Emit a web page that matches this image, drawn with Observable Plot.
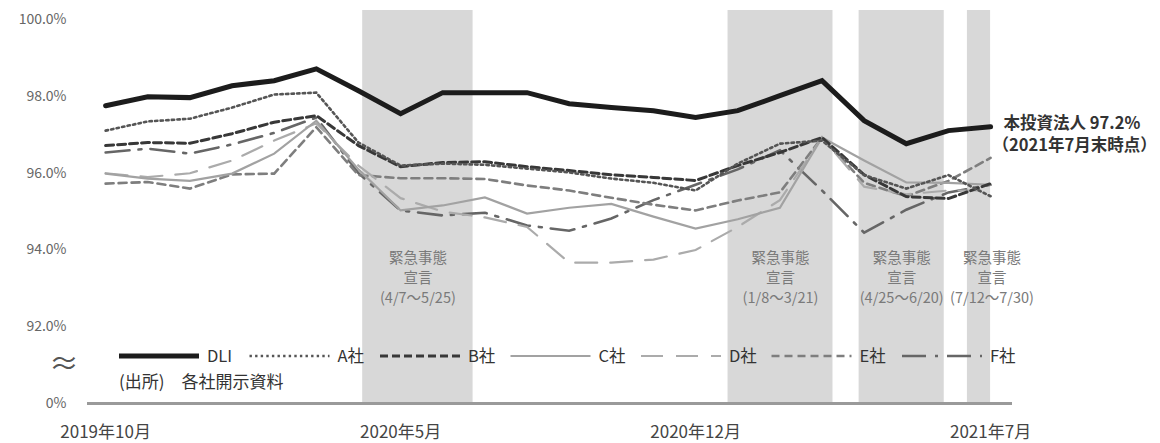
<!DOCTYPE html>
<html><head><meta charset="utf-8">
<script src="https://cdn.jsdelivr.net/npm/d3@7"></script>
<script src="https://cdn.jsdelivr.net/npm/@observablehq/plot@0.6"></script>
<style>
body{margin:0;background:#fff;font-family:"Noto Sans CJK JP","Noto Sans",sans-serif;}
#wrap{position:relative;width:1160px;height:443px;overflow:hidden;}
#wrap svg{position:absolute;left:0;top:0;}
g[aria-label="y-axis tick label"] text{fill:#666;}
g[aria-label="x-axis tick label"] text{fill:#444;}
</style></head><body><div id="wrap"></div>
<script>
// ---- data ----
const months = ["2019-10","2019-11","2019-12","2020-01","2020-02","2020-03","2020-04","2020-05","2020-06","2020-07","2020-08","2020-09","2020-10","2020-11","2020-12","2021-01","2021-02","2021-03","2021-04","2021-05","2021-06","2021-07"];
const tickIndex = [0, 7, 14, 21];
const tickText = ["2019年10月", "2020年5月", "2020年12月", "2021年7月"];
const yTicks = [90, 92, 94, 96, 98, 100];

const seriesNames = ["DLI", "A社", "B社", "C社", "D社", "E社", "F社"];
const dli = [97.76,97.99,97.97,98.28,98.41,98.72,98.15,97.55,98.10,98.10,98.10,97.81,97.71,97.63,97.45,97.63,98.02,98.41,97.37,96.77,97.11,97.21];
const compA = [97.11,97.35,97.42,97.71,98.05,98.10,96.80,96.20,96.25,96.22,96.12,96.02,95.86,95.75,95.55,96.25,96.77,96.85,95.95,95.60,95.95,95.40];
const compB = [96.72,96.80,96.78,97.03,97.33,97.50,96.72,96.17,96.28,96.30,96.17,96.07,95.96,95.89,95.81,96.20,96.54,96.93,95.96,95.39,95.34,95.73];
const compC = [95.99,95.86,95.80,95.99,96.51,97.37,96.10,95.03,95.16,95.37,94.95,95.10,95.20,94.87,94.56,94.80,95.10,96.93,96.33,95.76,95.75,95.70];
const compD = [96.00,95.90,96.00,96.33,96.85,97.30,96.20,95.35,95.00,94.85,94.60,93.67,93.67,93.75,94.00,94.60,95.30,96.93,95.65,95.45,95.55,95.55];
const compE = [95.73,95.77,95.60,95.97,95.99,97.20,95.95,95.87,95.87,95.85,95.68,95.55,95.36,95.18,95.03,95.29,95.50,96.93,95.75,95.40,95.80,96.40];
const compF = [96.54,96.64,96.51,96.75,97.05,97.45,96.00,95.03,94.90,94.97,94.64,94.50,94.82,95.30,95.70,96.10,96.60,95.55,94.45,95.05,95.50,95.70];
const seriesValues = [dli, compA, compB, compC, compD, compE, compF];

// state-of-emergency periods (positions in month index as drawn)
const bandStart = [6.1, 14.77, 17.88, 20.45];
const bandEnd = [8.72, 17.26, 19.9, 21.0];
const bandRange = ["(4/7～5/25)", "(1/8～3/21)", "(4/25～6/20)", "(7/12～7/30)"];

const annotationTitle = "本投資法人";
const annotationNote = "（2021年7月末時点）";
const sourceNote = "(出所)　各社開示資料";

// ---- styles ----
const styles = [
  {stroke: "#1c1c1c", strokeWidth: 5, dash: null},
  {stroke: "#555", strokeWidth: 2.6, dash: "2.4,3.2"},
  {stroke: "#383838", strokeWidth: 3, dash: "8,4"},
  {stroke: "#a2a2a2", strokeWidth: 2.2, dash: null},
  {stroke: "#ababab", strokeWidth: 2.2, dash: "22,13"},
  {stroke: "#7e7e7e", strokeWidth: 2.6, dash: "8,5"},
  {stroke: "#666", strokeWidth: 2.6, dash: "24,9,3,9"}
];

const rows = seriesNames.flatMap((name, s) => seriesValues[s].map((v, i) => ({name, i, month: months[i], v})));
const bands = bandStart.map((s, k) => ({start: s, end: bandEnd[k], label: "緊急事態\n宣言\n" + bandRange[k]}));
const last = dli.length - 1;

const lineMarks = seriesNames.map((name, s) => s).reverse().map(s =>
  Plot.line(rows.filter(d => d.name === seriesNames[s]), {
    x: "i", y: "v", stroke: styles[s].stroke, strokeWidth: styles[s].strokeWidth,
    strokeDasharray: styles[s].dash || undefined, strokeLinejoin: "miter", strokeMiterlimit: 3
  })
);

const chart = Plot.plot({
  width: 1160, height: 443,
  marginLeft: 87, marginRight: 148, marginTop: 10, marginBottom: 40,
  x: {domain: [-0.43, 21.52]},
  y: {domain: [90, 100.24]},
  style: {fontFamily: '"Noto Sans CJK JP","Noto Sans",sans-serif', background: "white"},
  marks: [
    Plot.rect(bands, {x1: "start", x2: "end", fill: "#d8d8d8"}),
    Plot.text(bands.slice(0, 3), {x: d => (d.start + d.end) / 2, text: "label", frameAnchor: "top", lineAnchor: "top", dy: 239, fontSize: 14.5, lineHeight: 1.35, fill: "#7a7a7a"}),
    Plot.text(bands.slice(3), {x: d => (d.start + d.end) / 2, text: "label", frameAnchor: "top", lineAnchor: "top", dy: 239, dx: 13, fontSize: 14.5, lineHeight: 1.35, fill: "#7a7a7a"}),
    Plot.ruleY([90], {stroke: "#9a9a9a", strokeWidth: 3}),
    Plot.axisY({ticks: yTicks, tickFormat: d => d === 90 ? "0%" : d.toFixed(1) + "%", tickSize: 0, tickPadding: 21, fontSize: 14, label: null}),
    Plot.axisX({ticks: tickIndex, tickFormat: i => tickText[tickIndex.indexOf(i)], tickSize: 0, tickPadding: 22, fontSize: 17, label: null}),
    ...lineMarks,
    Plot.text([{i: last, v: dli[last]}], {x: "i", y: "v", text: d => annotationTitle + " " + d.v.toFixed(1) + "%", dx: 13, dy: -3, textAnchor: "start", fontSize: 16.5, fontWeight: "bold", fill: "#333"}),
    Plot.text([{i: last, v: dli[last]}], {x: "i", y: "v", text: () => annotationNote, dx: 2, dy: 19, textAnchor: "start", fontSize: 16.5, fontWeight: "bold", fill: "#333"})
  ]
});

const wrap = document.getElementById("wrap");
wrap.appendChild(chart);

// ---- in-chart legend, source note and axis-break symbol ----
const ov = d3.select(wrap).append("svg")
  .attr("width", 1160).attr("height", 443)
  .style("pointer-events", "none")
  .style("font-family", '"Noto Sans CJK JP","Noto Sans",sans-serif');
const legY = 356, legX0 = 119, legStep = 130.5, legLen = 80;
seriesNames.forEach((name, s) => {
  const x = legX0 + s * legStep;
  ov.append("line").attr("x1", x).attr("x2", x + legLen).attr("y1", legY).attr("y2", legY)
    .attr("stroke", styles[s].stroke).attr("stroke-width", styles[s].strokeWidth)
    .attr("stroke-dasharray", styles[s].dash);
  ov.append("text").attr("x", x + legLen + 8).attr("y", legY).attr("dy", "0.35em")
    .attr("font-size", 16.5).attr("fill", "#333").text(name);
});
ov.append("text").attr("x", 119).attr("y", 382).attr("dy", "0.35em")
  .attr("font-size", 17).attr("fill", "#333").style("white-space", "pre").text(sourceNote);
ov.append("text").attr("x", 64).attr("y", 363).attr("dy", "0.35em").attr("text-anchor", "middle")
  .attr("font-size", 30).attr("fill", "#555").text("≈");
</script></body></html>
